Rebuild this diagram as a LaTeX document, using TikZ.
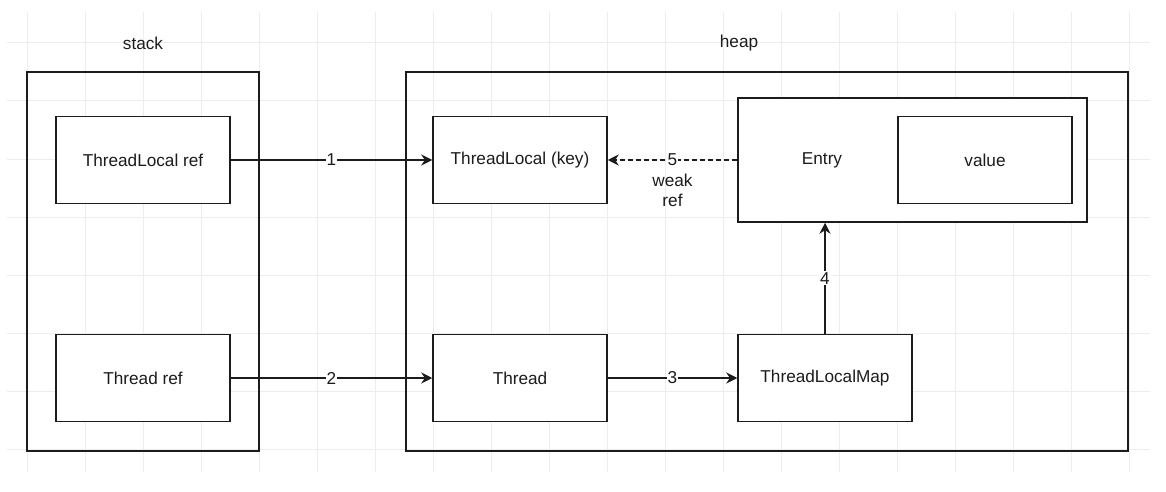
\documentclass[tikz,border=0pt]{standalone}
\usepackage{fontspec}
\setmainfont{Liberation Sans}
\usepackage{tikz}
\usetikzlibrary{arrows.meta,positioning}
\definecolor{bg}{HTML}{FFFFFF}
\definecolor{gridc}{HTML}{EDEDED}
\definecolor{ink}{HTML}{1C1C1C}
\tikzset{
  box/.style={draw=ink, fill=bg, line width=0.75pt, minimum width=87pt, minimum height=43.5pt, inner sep=0pt, text=ink, font=\fontsize{8.6}{10}\selectfont},
  frame/.style={draw=ink, line width=0.75pt, inner sep=0pt},
  txt/.style={text=ink, font=\fontsize{8.6}{10}\selectfont, inner sep=1pt},
  lbl/.style={txt, fill=bg, inner sep=0.6pt},
  ref/.style={draw=ink, line width=0.8pt, -{Stealth[length=5.5pt,width=5.5pt]}},
  weak/.style={ref, dash pattern=on 2.5pt off 1.5pt},
  gridline/.style={draw=gridc, line width=0.5pt},
}

\begin{document}
\begin{tikzpicture}[x=0.5pt,y=-0.5pt]
  \useasboundingbox (0,0) rectangle (1166,492);
  \foreach \gx in {0,...,19} \draw[gridline] (27+58*\gx,12) -- (27+58*\gx,472);
  \foreach \gy in {0,...,7} \draw[gridline] (7,43+58*\gy) -- (1150,43+58*\gy);

  \node[frame, minimum width=116pt, minimum height=189.5pt] (stack) at (143,261.5) {};
  \node[frame, minimum width=361pt, minimum height=189.5pt] (heap) at (767,261.5) {};
  \node[txt] (stacklbl) at (143,43) {stack};
  \node[txt] (heaplbl) at (739,43) {heap};

  \node[box] (tlref) at (143,160) {ThreadLocal ref};
  \node[box] (thref) at (143,378) {Thread ref};
  \node[box] (tlkey) at (520,160) {ThreadLocal (key)};
  \node[box] (thread) at (520,378) {Thread};
  \node[box] (tlmap) at (825,378) {ThreadLocalMap};
  \node[box, minimum width=174.5pt, minimum height=62pt] (entry) at (912.5,160) {};
  \node[txt] (entrytxt) at (822,160) {Entry};
  \node[box] (value) at (985,160) {value};

  \draw[ref] (tlref) -- (tlkey) node[lbl, midway] {1};
  \draw[ref] (thref) -- (thread) node[lbl, midway] {2};
  \draw[ref] (thread) -- (tlmap) node[lbl, midway] {3};
  \draw[ref] (tlmap.north) -- (tlmap.north |- entry.south) node[lbl, midway] {4};
  \draw[weak] (entry.west) -- (tlkey.east) node[lbl, midway] (five) {5};
  \node[txt, align=center, below=2pt of five] (weakref) {weak\\ref};
\end{tikzpicture}
\end{document}
